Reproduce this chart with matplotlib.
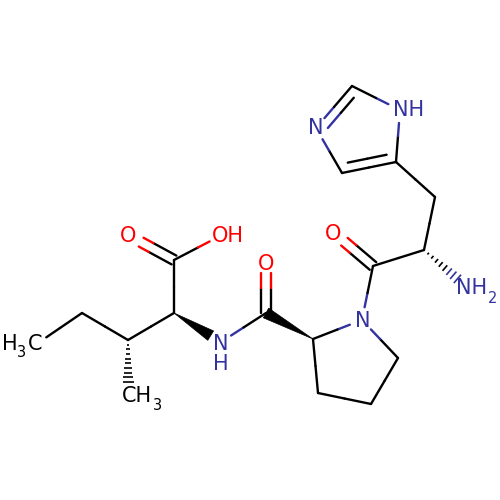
import numpy as np
import matplotlib
matplotlib.use("Agg")
import matplotlib.pyplot as plt

BLUE = "#33339f"
RED = "#ff0000"
BLACK = "#000000"

# atom positions (pixels, y down)
atom_names = ["Me1", "CH2", "CHb", "Me2", "CaI", "COOH", "O1", "OH", "NH", "CO2", "O2", "CaP", "Cb", "Cg", "Cd", "NP",
              "CO3", "O3", "CaH", "CbH", "C4", "C5", "N3", "C2", "N1", "NH2"]
atom_x = [38, 82, 128, 128, 174, 174, 128, 222, 221, 266, 266, 313, 318, 371, 398, 362,
          373, 333, 424, 435, 396, 342, 316, 352, 400, 468]
atom_y = [343, 313, 340, 382, 313, 260, 235, 235, 342, 313, 262, 339, 393, 404, 358, 320,
          266, 232, 250, 197, 162, 173, 128, 86, 110, 288]
atom_colors = {"O1": RED, "OH": RED, "O2": RED, "O3": RED,
               "NH": BLUE, "NP": BLUE, "N3": BLUE, "N1": BLUE, "NH2": BLUE}
# how far a bond stops short of a labelled atom
atom_gap = {"Me1": 10, "O1": 15, "OH": 14, "O2": 11, "O3": 15, "NH": 12, "NP": 13, "N3": 13, "N1": 13}

single_bonds = [("Me1", "CH2"), ("CH2", "CHb"), ("CHb", "CaI"), ("CaI", "COOH"), ("COOH", "OH"),
                ("NH", "CO2"), ("CaP", "Cb"), ("Cb", "Cg"), ("Cg", "Cd"), ("Cd", "NP"), ("NP", "CaP"),
                ("NP", "CO3"), ("CO3", "CaH"), ("CaH", "CbH"), ("CbH", "C4"), ("C4", "N1"), ("N1", "C2"),
                ("C5", "N3")]
center_double = [("COOH", "O1"), ("CO2", "O2"), ("CO3", "O3")]
ring_double = [("N3", "C2"), ("C4", "C5")]
wedges = [("CaI", "NH", 0.78), ("CaP", "CO2", 1.0)]
hashes = [("CHb", "Me2", 1.0, 9), ("CaH", "NH2", 0.76, 8)]

pos = {n: np.array([x, y], dtype=float) for n, x, y in zip(atom_names, atom_x, atom_y)}

fig = plt.figure(figsize=(5, 5), dpi=100)
ax = fig.add_axes([0, 0, 1, 1])
ax.set_xlim(0, 500)
ax.set_ylim(500, 0)
ax.axis("off")

LW = 1.7


def draw_bond(p, q, name_p, name_q, trim=True):
    # two colour line, split halfway between the atoms
    p, q = np.array(p, float), np.array(q, float)
    mid = (p + q) / 2
    d = (q - p) / np.linalg.norm(q - p)
    start = p + d * atom_gap.get(name_p, 0) if trim else p
    end = q - d * atom_gap.get(name_q, 0) if trim else q
    ax.plot([start[0], mid[0]], [start[1], mid[1]], color=atom_colors.get(name_p, BLACK), lw=LW,
            solid_capstyle="round")
    ax.plot([mid[0], end[0]], [mid[1], end[1]], color=atom_colors.get(name_q, BLACK), lw=LW,
            solid_capstyle="round")


for a, b in single_bonds:
    draw_bond(pos[a], pos[b], a, b)

# C=O, two lines either side of the axis
for a, b in center_double:
    d = pos[b] - pos[a]
    n = np.array([-d[1], d[0]]) / np.linalg.norm(d)
    draw_bond(pos[a] + n * 5, pos[b] + n * 5, a, b)
    draw_bond(pos[a] - n * 5, pos[b] - n * 5, a, b)

# ring double bonds, short inner line towards the middle of the ring
ring_center = np.mean([pos[n] for n in ["C4", "C5", "N3", "C2", "N1"]], axis=0)
for a, b in ring_double:
    draw_bond(pos[a], pos[b], a, b)
    d = pos[b] - pos[a]
    n = np.array([-d[1], d[0]]) / np.linalg.norm(d)
    if np.dot(n, ring_center - pos[a]) < 0:
        n = -n
    p = pos[a] + n * 9 + d * 0.14
    q = pos[b] + n * 9 - d * 0.14
    draw_bond(p, q, a, b, trim=False)

for a, b, frac in wedges:
    tip = pos[a]
    d = (pos[b] - tip) * frac
    n = np.array([-d[1], d[0]]) / np.linalg.norm(d)
    w = tip + d
    ax.fill([tip[0], w[0] + n[0] * 5.5, w[0] - n[0] * 5.5], [tip[1], w[1] + n[1] * 5.5, w[1] - n[1] * 5.5],
            color=BLACK, lw=0.5)

for a, b, frac, steps in hashes:
    tip = pos[a]
    d = (pos[b] - tip) * frac
    n = np.array([-d[1], d[0]]) / np.linalg.norm(d)
    for i in range(1, steps + 1):
        t = i / steps
        half = 0.5 + 5 * t
        c = tip + d * t
        color = BLUE if (b == "NH2" and t > 0.72) else BLACK
        ax.plot([c[0] - n[0] * half, c[0] + n[0] * half], [c[1] - n[1] * half, c[1] + n[1] * half],
                color=color, lw=1.2, solid_capstyle="butt")

# atom labels
FS = 15
SUB = 10.5


def label(x, y, s, color=BLACK, size=FS):
    ax.text(x, y, s, color=color, fontsize=size, ha="center", va="center_baseline", family="DejaVu Sans")


label(128, 234.5, "O", RED)
label(228, 234.5, "OH", RED)
label(266, 261.5, "O", RED)
label(333, 231.5, "O", RED)
label(221, 341.5, "N", BLUE)
label(221, 362, "H", BLUE)
label(362.5, 319, "N", BLUE)
label(316, 126.5, "N", BLUE)
label(409, 108.5, "NH", BLUE)
label(472, 286.5, "NH", BLUE)
label(493, 297, "2", BLUE, SUB)
label(10, 342, "H", BLACK)
label(22, 351, "3", BLACK, SUB)
label(35, 342, "C", BLACK)
label(137, 394.5, "CH", BLACK)
label(157, 404, "3", BLACK, SUB)

fig.savefig("out.png", dpi=100, facecolor="white")
